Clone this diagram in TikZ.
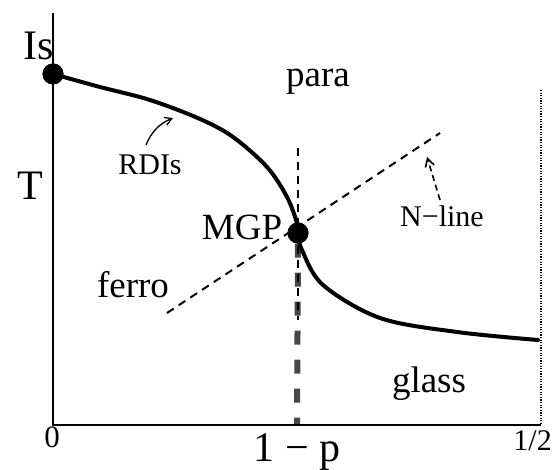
\documentclass[tikz,border=0pt]{standalone}
\usepackage{fontspec}
\setmainfont{Liberation Serif}
\usetikzlibrary{arrows.meta}
\tikzset{
  big/.style={font=\fontsize{42}{46}\selectfont, inner sep=0pt, anchor=base},
  region/.style={font=\fontsize{37}{40}\selectfont, inner sep=0pt, anchor=base},
  lab/.style={font=\fontsize{30}{34}\selectfont, inner sep=0pt, anchor=base},
  tick/.style={font=\fontsize{31}{34}\selectfont, inner sep=0pt, anchor=base},
  axis/.style={line width=1.3pt},
  crit/.style={line width=4pt, line cap=round, line join=round},
  thindash/.style={line width=2pt, dash pattern=on 8pt off 6pt},
  thickdash/.style={line width=6pt, color=black!72, dash pattern=on 14pt off 15pt},
  dotpt/.style={circle, fill=black, inner sep=0pt, minimum size=21pt},
}
\begin{document}
\begin{tikzpicture}[x=1pt, y=-1pt]
\useasboundingbox (0,0) rectangle (552,470);
% axes
\coordinate (ytop) at (53,13);
\coordinate (orig) at (53,425);
\coordinate (xend) at (541,425);
\coordinate (rtop) at (541,90);
\draw[axis] (ytop) -- (orig) -- (xend);
\draw[line width=1.3pt, dash pattern=on 1.3pt off 1.3pt] (rtop) -- (xend);
% vertical lines at MGP
\coordinate (vtop) at (298,148);
\coordinate (vmid) at (298,320);
\coordinate (vbot) at (297,424);
\node[dotpt] (mgp) at (298,233) {};
\node[dotpt] (is) at (53,74) {};
\draw[thickdash] (mgp.south) -- (vbot);
\draw[thindash] (vtop) -- (vmid);
% N-line
\coordinate (nl) at (167,313);
\coordinate (nr) at (440,133);
\draw[thindash] (nl) -- (nr);
% critical curve
\draw[crit] plot[smooth, tension=0.55] coordinates {(53,74) (100,87) (150,100) (200,119) (233,137) (267,167) (287,197) (297,223) (298,233) (302,250) (323,285) (380,318) (457,332) (538,340)};
\node[dotpt] at (mgp) {};
\node[dotpt] at (is) {};
% labels
\node[big] (lis) at (39,60) {Is};
\node[big] (lT) at (30,200) {T};
\node[region] (lpara) at (318,87) {para};
\node[lab] (lrdi) at (150,175) {RDIs};
\node[region] (lmgp) at (242,240) {MGP};
\node[lab] (lnl) at (442,227) {N−line};
\node[region] (lferro) at (133,298) {ferro};
\node[region] (lglass) at (429,393) {glass};
\node[tick] (l0) at (52,447) {0};
\node[big] (lp) at (297,461) {1 − p};
\node[tick, anchor=base east, font=\fontsize{30}{34}\selectfont] (lhalf) at (552,450) {1/2};
% pointer arrows
\coordinate (ra) at (146,145);
\coordinate (rb) at (173,118);
\draw[line width=1.3pt, -{Straight Barb[length=7pt, width=8pt]}] (ra) to[bend left=22] (rb);
\coordinate (na) at (440,200);
\coordinate (nb) at (427,157);
\draw[line width=1.6pt, dash pattern=on 6pt off 4pt, -{Straight Barb[length=8pt, width=9pt]}] (na) -- (nb);
\end{tikzpicture}
\end{document}
